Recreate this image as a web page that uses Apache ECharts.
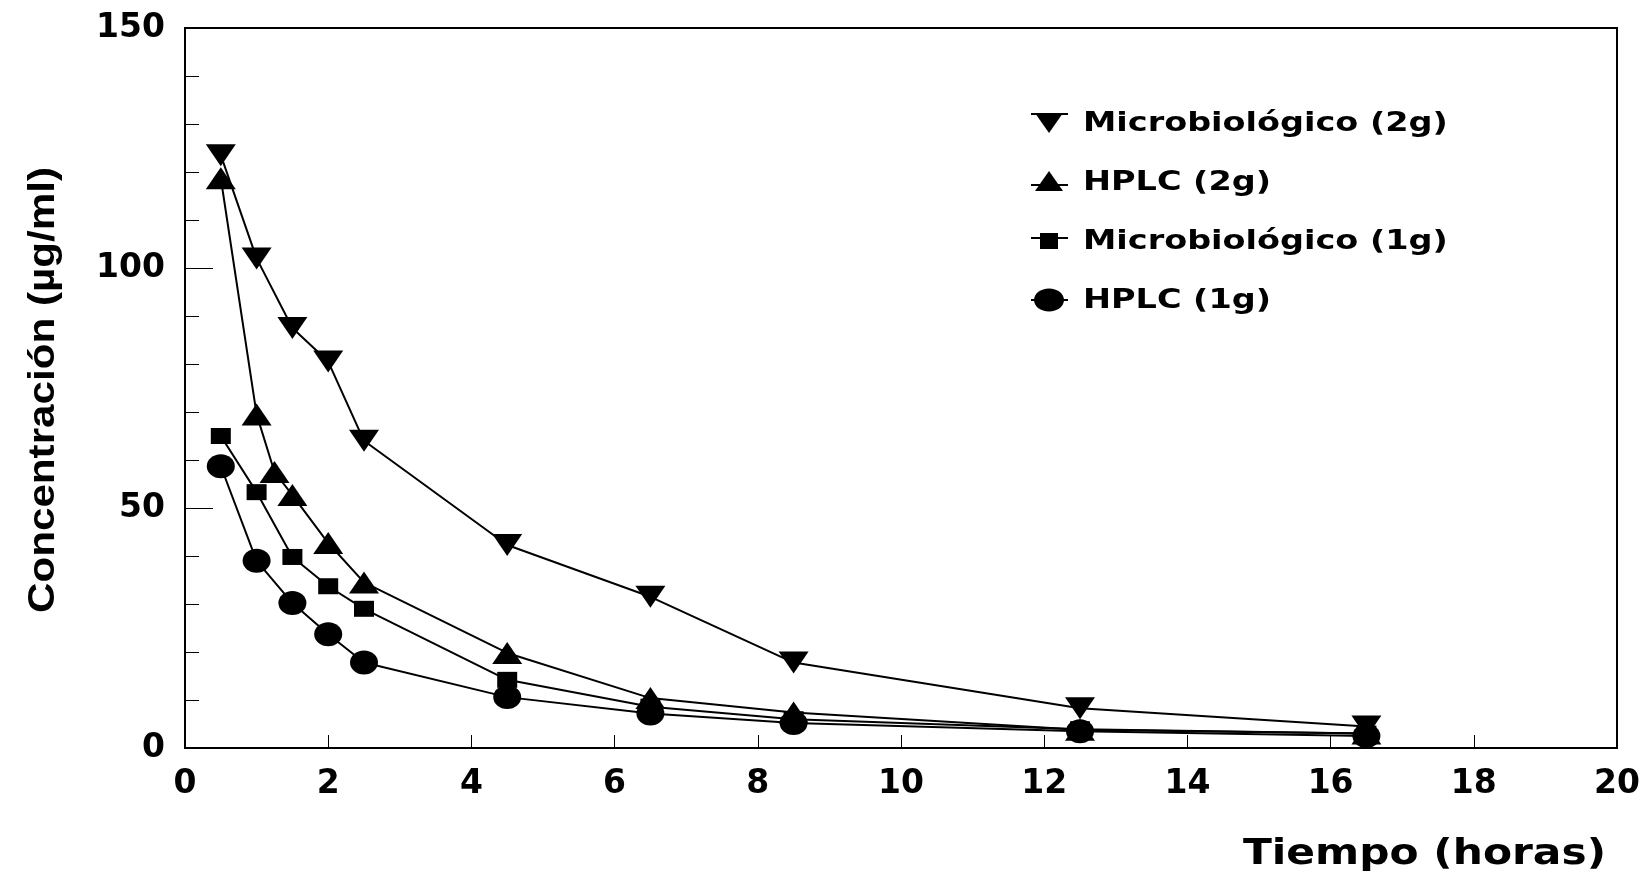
<!DOCTYPE html>
<html>
<head>
<meta charset="utf-8">
<script src="https://cdn.jsdelivr.net/npm/echarts@6/dist/echarts.min.js"></script>
<style>
html,body{margin:0;padding:0;background:#fff;}
#chart{width:1645px;height:878px;}
</style>
</head>
<body>
<div id="chart"></div>
<script>
// ---- data ----
const xTimes = [0.5, 1, 1.5, 2, 2.5, 4.5, 6.5, 8.5, 12.5, 16.5];
const xTimesHplc2g = [0.5, 1, 1.25, 1.5, 2, 2.5, 4.5, 6.5, 8.5, 12.5, 16.5];
const micro2g = [123.5, 102, 87.5, 80.5, 64, 42.3, 31.5, 17.8, 8.3, 4.5];
const hplc2g = [118.7, 69.5, 57.5, 52.7, 42.7, 34.5, 19.8, 10.4, 7.4, 3.8, 3.0];
const micro1g = [65, 53.3, 39.8, 33.7, 29, 14.2, 8.6, 6.0, 3.9, 3.0];
const hplc1g = [58.7, 39, 30.2, 23.7, 17.8, 10.6, 7.2, 5.2, 3.5, 2.5];
const seriesNames = ['Microbiológico (2g)', 'HPLC (2g)', 'Microbiológico (1g)', 'HPLC (1g)'];
const xAxisTitle = 'Tiempo (horas)';
const yAxisTitle = 'Concentración (µg/ml)';

function pairs(xs, ys) { return xs.map((x, i) => [x, ys[i]]); }

const downTri = 'path://M0,0 L10,0 L5,7.5 Z';
const upTri = 'path://M5,0 L10,7.5 L0,7.5 Z';
const heavy = '"DejaVu Sans", sans-serif';
const arialB = '"Liberation Sans", Arial, sans-serif';

const chart = echarts.init(document.getElementById('chart'), null, {renderer: 'canvas'});

function lineSeries(name, data, symbol, size) {
  return {
    name: name,
    type: 'line',
    data: data,
    symbol: symbol,
    symbolSize: size,
    showAllSymbol: true,
    lineStyle: {color: '#000', width: 2},
    itemStyle: {color: '#000', borderWidth: 0},
    emphasis: {disabled: true},
    animation: false
  };
}

// ---- legend drawn as graphic (to match wide lettering) ----
const legendX = 1049, legendY0 = 123, legendStep = 59, legendTextX = 1083;
const legendGraphics = [];
seriesNames.forEach((name, i) => {
  const cy = legendY0 + i * legendStep;
  let lineY = cy, icon;
  if (i === 0) {
    lineY = cy - 9;
    icon = {type: 'polygon', shape: {points: [[legendX - 14, cy - 10], [legendX + 14, cy - 10], [legendX, cy + 10]]}};
  } else if (i === 1) {
    lineY = cy + 3;
    icon = {type: 'polygon', shape: {points: [[legendX, cy - 11], [legendX + 14, cy + 9], [legendX - 14, cy + 9]]}};
  } else if (i === 2) {
    lineY = cy - 3;
    icon = {type: 'rect', shape: {x: legendX - 9, y: cy - 8, width: 18, height: 16}};
  } else {
    icon = {type: 'ellipse', shape: {cx: legendX, cy: cy, rx: 15, ry: 11.5}};
  }
  icon.style = {fill: '#000'};
  legendGraphics.push({type: 'line', shape: {x1: legendX - 18, y1: lineY, x2: legendX + 19, y2: lineY}, style: {stroke: '#000', lineWidth: 2}});
  legendGraphics.push(icon);
  legendGraphics.push({
    type: 'text', x: legendTextX, y: cy + 1, scaleX: 1.24,
    style: {text: name, fontFamily: heavy, fontWeight: 'bold', fontSize: 27, fill: '#000', textAlign: 'left', textVerticalAlign: 'middle'}
  });
});

chart.setOption({
  backgroundColor: '#fff',
  animation: false,
  grid: {
    left: 185, right: 28, top: 28, bottom: 130,
    show: true, borderColor: '#000', borderWidth: 2, backgroundColor: 'transparent'
  },
  xAxis: {
    type: 'value',
    min: 0, max: 20, interval: 2,
    axisLine: {show: true, lineStyle: {color: '#000', width: 2}},
    axisTick: {show: true, inside: true, length: 13, lineStyle: {color: '#000', width: 1}},
    minorTick: {show: false},
    splitLine: {show: false},
    axisLabel: {margin: 20, fontFamily: heavy, fontWeight: 'bold', fontSize: 33, color: '#000'}
  },
  yAxis: {
    type: 'value',
    min: 0, max: 150, interval: 50,
    axisLine: {show: true, lineStyle: {color: '#000', width: 2}},
    axisTick: {show: true, inside: true, length: 28, lineStyle: {color: '#000', width: 1}},
    minorTick: {show: true, splitNumber: 5, length: 14, lineStyle: {color: '#000', width: 1}},
    splitLine: {show: false},
    minorSplitLine: {show: false},
    axisLabel: {margin: 20, fontFamily: heavy, fontWeight: 'bold', fontSize: 33, color: '#000'}
  },
  graphic: [
    {
      type: 'text', x: 1606, y: 855, scaleX: 1.21,
      style: {text: xAxisTitle, fontFamily: heavy, fontWeight: 'bold', fontSize: 35, fill: '#000', textAlign: 'right', textVerticalAlign: 'middle'}
    },
    {
      type: 'text', x: 44, y: 390, rotation: Math.PI / 2, scaleX: 1.14,
      style: {text: yAxisTitle, fontFamily: arialB, fontWeight: 'bold', fontSize: 37, fill: '#000', textAlign: 'center', textVerticalAlign: 'middle'}
    }
  ].concat(legendGraphics),
  series: [
    lineSeries(seriesNames[0], pairs(xTimes, micro2g), downTri, [30, 22]),
    lineSeries(seriesNames[1], pairs(xTimesHplc2g, hplc2g), upTri, [30, 22]),
    lineSeries(seriesNames[2], pairs(xTimes, micro1g), 'rect', [20, 16]),
    lineSeries(seriesNames[3], pairs(xTimes, hplc1g), 'circle', [28, 24])
  ]
});
</script>
</body>
</html>
